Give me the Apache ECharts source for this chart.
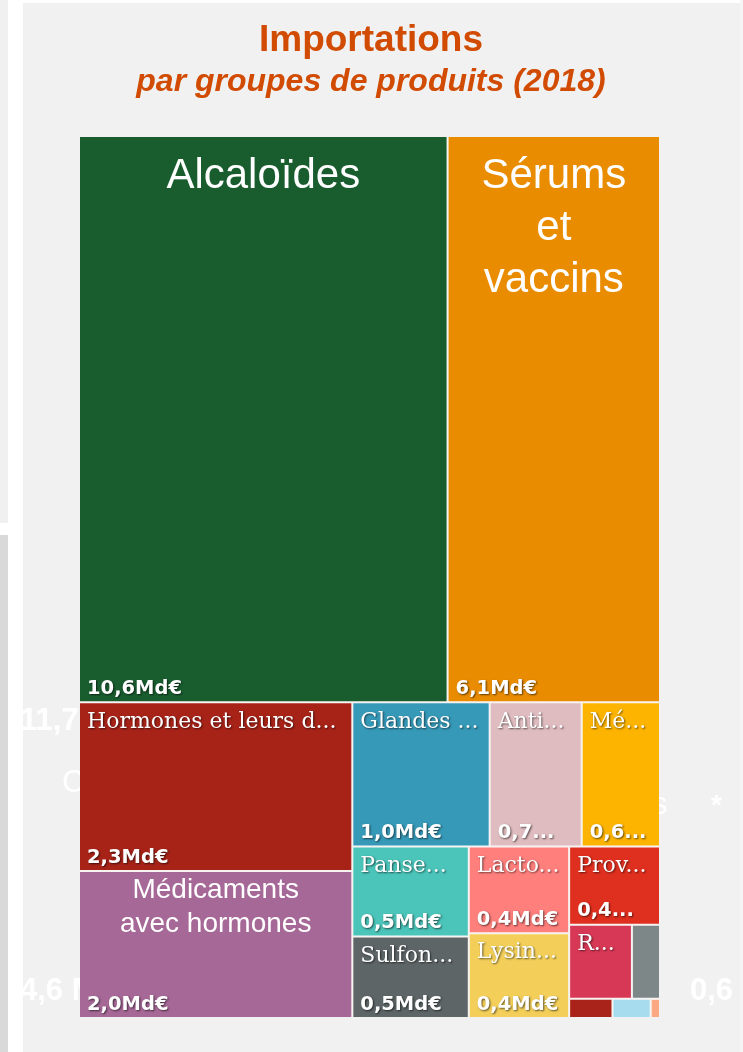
<!DOCTYPE html>
<html>
<head>
<meta charset="utf-8">
<script src="https://cdn.jsdelivr.net/npm/echarts@6/dist/echarts.min.js"></script>
<style>
  html, body { margin: 0; padding: 0; background: #ffffff; }
  .bg { position: absolute; }
  #chart { position: absolute; left: 0; top: 0; width: 743px; height: 1052px; }
</style>
</head>
<body>
<div class="bg" style="left:0;top:0;width:8px;height:523px;background:#f0f0f0;"></div>
<div class="bg" style="left:0;top:535px;width:8px;height:517px;background:#d9d9d9;"></div>
<div class="bg" style="left:23px;top:3px;width:717px;height:1049px;background:#f1f1f1;"></div>
<div class="bg" style="left:740px;top:0;width:3px;height:1052px;background:#f5f5f5;"></div>
<div id="chart"></div>
<script>
// groupes de produits, valeurs en milliards d'euros (2018)
const productNames = [
  'Alcaloïdes', 'Sérums et vaccins', 'Hormones et leurs dérivés', 'Médicaments avec hormones',
  'Glandes et autres organes', 'Antibiotiques', 'Médicaments sans hormones', 'Pansements',
  'Sulfonamides', 'Lactones', 'Lysine et esters', 'Provitamines et vitamines', 'Réactifs',
  'Autres', 'Vitamines', 'Hétérocycliques', 'Divers'
];
const productValues = [10.55, 6.08, 2.33, 2.03, 1.0, 0.67, 0.57, 0.53, 0.48, 0.44, 0.43, 0.36, 0.235, 0.105, 0.042, 0.037, 0.009];
const productColors = [
  '#195d2f', '#ea8c00', '#a72318', '#a66897', '#3699b8', '#dfbcbf', '#fdb400', '#4bc4b9',
  '#5d6566', '#fe7f7c', '#f3cf5a', '#df2f1f', '#d63855', '#7e8787', '#a9231a', '#a6dcee', '#fca882'
];
// gros libellés centrés
const bigLabels = {
  'Alcaloïdes': {text: 'Alcaloïdes', size: 42, lh: 52, top: 13},
  'Sérums et vaccins': {text: 'Sérums\net\nvaccins', size: 42, lh: 52, top: 13},
  'Médicaments avec hormones': {text: 'Médicaments\navec hormones', size: 28, lh: 34, top: 1}
};

const fmtValue = v => v.toFixed(1).replace('.', ',') + 'Md€';

const shadow = {
  textShadowColor: 'rgba(0,0,0,0.6)',
  textShadowBlur: 2,
  textShadowOffsetX: 1,
  textShadowOffsetY: 1
};

const nameData = productNames.map((name, i) => {
  const item = {
    name,
    value: productValues[i],
    itemStyle: {color: productColors[i]},
  };
  const big = bigLabels[name];
  if (big) {
    item.label = {
      formatter: big.text,
      position: 'insideTop',
      align: 'center',
      fontFamily: 'Liberation Sans',
      fontWeight: 'normal',
      fontSize: big.size,
      lineHeight: big.lh,
      padding: [big.top, 0, 0, 0],
      textShadowBlur: 0,
      textShadowOffsetX: 0,
      textShadowOffsetY: 0
    };
  } else if (productValues[i] < 0.15) {
    item.label = {show: false};
  }
  return item;
});

const valueData = productNames.map((name, i) => ({
  name,
  value: productValues[i],
  itemStyle: {color: 'rgba(0,0,0,0)'},
  label: {show: productValues[i] >= 0.3},
}));

const baseSeries = {
  type: 'treemap',
  left: 80,
  top: 137,
  width: 579,
  height: 880,
  squareRatio: 1.35,
  roam: false,
  nodeClick: false,
  silent: true,
  animation: false,
  breadcrumb: {show: false},
};

const chart = echarts.init(document.getElementById('chart'), null, {renderer: 'canvas'});
chart.setOption({
  backgroundColor: 'transparent',
  title: [
    {
      text: 'Importations',
      left: 366,
      textAlign: 'center',
      top: 17,
      textStyle: {fontFamily: 'Liberation Sans', fontWeight: 'bold', fontSize: 37, color: '#d14b02'}
    },
    {
      text: 'par groupes de produits (2018)',
      left: 366,
      textAlign: 'center',
      top: 61,
      textStyle: {fontFamily: 'Liberation Sans', fontWeight: 'bold', fontStyle: 'italic', fontSize: 32, color: '#d14b02'}
    }
  ],
  graphic: [
    {type: 'text', left: 20, top: 706, z: -1, style: {text: '11,7', fill: '#fff', font: 'bold 31px "Liberation Sans"'}},
    {type: 'text', left: 62, top: 768, z: -1, style: {text: 'C', fill: '#fff', font: '31px "Liberation Sans"'}},
    {type: 'text', left: 652, top: 790, z: -1, style: {text: 's', fill: '#fff', font: '31px "Liberation Sans"'}},
    {type: 'text', left: 711, top: 792, z: -1, style: {text: '*', fill: '#fff', font: 'bold 28px "Liberation Sans"'}},
    {type: 'text', left: 20, top: 976, z: -1, style: {text: '4,6 M', fill: '#fff', font: 'bold 31px "Liberation Sans"'}},
    {type: 'text', left: 690, top: 976, z: -1, style: {text: '0,6', fill: '#fff', font: 'bold 31px "Liberation Sans"'}}
  ],
  series: [
    Object.assign({}, baseSeries, {
      name: 'noms',
      data: nameData,
      levels: [
        {itemStyle: {borderWidth: 0, gapWidth: 2, borderColor: '#f6f3f1'}},
        {itemStyle: {borderWidth: 0, gapWidth: 0}}
      ],
      label: Object.assign({
        show: true,
        position: 'insideTopLeft',
        color: '#fff',
        fontFamily: 'DejaVu Serif',
        fontSize: 22,
        lineHeight: 25,
        padding: [6, 4, 0, 7],
        overflow: 'truncate',
        ellipsis: '...'
      }, shadow)
    }),
    Object.assign({}, baseSeries, {
      name: 'valeurs',
      data: valueData,
      levels: [
        {itemStyle: {borderWidth: 0, gapWidth: 2, borderColor: 'rgba(0,0,0,0)'}},
        {itemStyle: {borderWidth: 0, gapWidth: 0, borderColor: 'rgba(0,0,0,0)'}}
      ],
      label: Object.assign({
        show: true,
        position: 'insideBottomLeft',
        color: '#fff',
        fontFamily: 'DejaVu Sans',
        fontWeight: 'bold',
        fontSize: 19.5,
        lineHeight: 23,
        padding: [0, 7, 1, 7],
        overflow: 'truncate',
        ellipsis: '...',
        formatter: p => fmtValue(p.value)
      }, shadow)
    })
  ]
});
</script>
</body>
</html>
